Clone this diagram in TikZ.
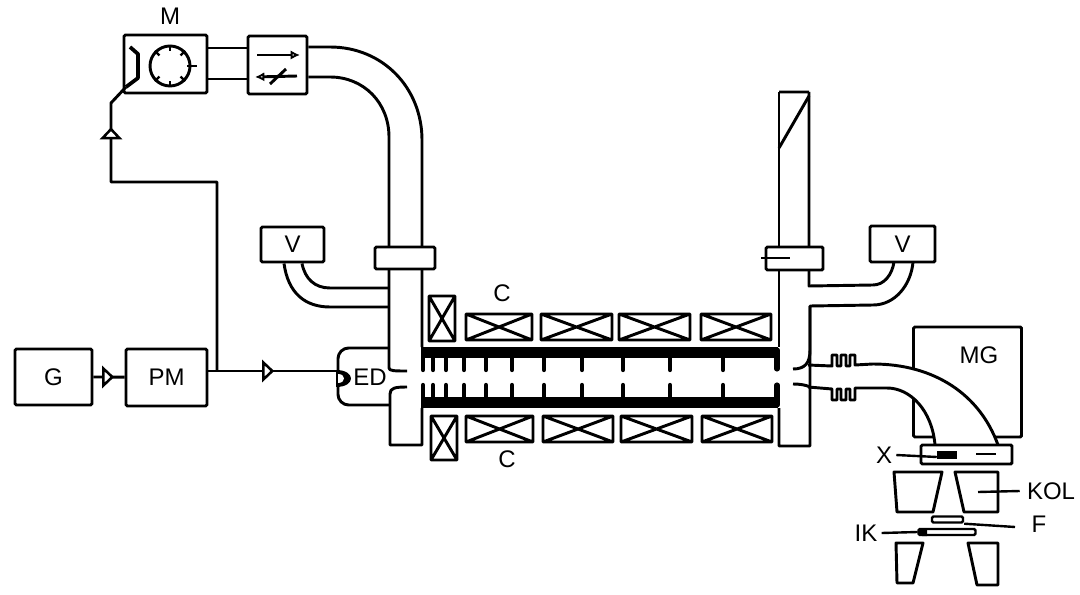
\documentclass[tikz,border=0pt]{standalone}
\usepackage{fontspec}
\setmainfont{Liberation Sans}
\usetikzlibrary{shapes.geometric,arrows.meta}
\tikzset{
  line/.style={line width=2.2pt, line join=round},
  thin line/.style={line width=1.8pt, line join=round},
  box/.style={draw, line width=2.2pt, fill=white, rounded corners=1pt, inner sep=0pt},
  label text/.style={font=\fontsize{18}{20}\selectfont, inner sep=3pt},
  amp/.style={draw, line width=1.9pt, fill=white, isosceles triangle, isosceles triangle stretches, inner sep=0pt, outer sep=0pt, minimum width=17*0.75pt, minimum height=9*0.75pt},
  disk/.style={line width=3.2pt, line cap=round}
}
\begin{document}
\begin{tikzpicture}[x=0.75pt, y=-0.75pt]
  \useasboundingbox (0,0) rectangle (1080,595);
  % boxes
  \foreach \n/\X/\Y/\W/\H/\T in {G/53.5/377/77/56/G, PM/166.5/377.5/81/57/PM, M/165.5/64/83/58/, SW/277.5/65/59/58/, VL/292.5/244.5/63/35/V, VR/902.5/244/65/36/V, MG/967.5/382/108/110/}
  {
    \node[box, label text, minimum width=\W*0.75pt, minimum height=\H*0.75pt] (\n) at (\X,\Y) {\T};
  }
  % waveguide from the switch down to the left flange
  \draw[line] (M.east |- 0,48) -- (SW.west |- 0,48);
  \draw[line] (M.east |- 0,79) -- (SW.west |- 0,79);
  \draw[line] (SW.east |- 0,47) -- (330,47) .. controls (383,47) and (422,88) .. (422,140) -- (422,347);
  \draw[line] (SW.east |- 0,77) -- (330,77) .. controls (364,77) and (389,103) .. (389,137) -- (389,368) .. controls (389,371) and (395,371) .. (407,371);
  \draw[line] (407,387) .. controls (395,387) and (390,388) .. (390,394) -- (390,445) -- (422,445) -- (422,408);
  \node[box, minimum width=60*0.75pt, minimum height=22*0.75pt] (flangeL) at (405,258) {};
  % pipes to the left vacuum box
  \draw[line] (VL.south -| 302,0) .. controls (305,279) and (315,288) .. (330,288) -- (389,288);
  \draw[line] (VL.south -| 284,0) .. controls (288,293) and (305,307) .. (330,307) -- (389,307);
  % electron gun
  \draw[line, rounded corners=8pt] (389,348) -- (338,348) -- (338,405) -- (390,405);
  \node[label text] (ED) at (370,377) {ED};
  \fill (336,370) .. controls (356,370) and (356,387) .. (336,387) -- cycle;
  \fill[white] (338,374) .. controls (346,374) and (346,383) .. (338,383) -- cycle;
  % cavity
  \fill (421,347) rectangle (778,358);
  \fill (421,397) rectangle (778,408);
  \foreach \X in {423,433,446,464,486,512,544,582,623,670,723}
  {
    \draw[disk] (\X,358) -- (\X,370);
    \draw[disk] (\X,397) -- (\X,385);
  }
  \draw[disk, line width=3.8pt] (777,350) -- (777,369);
  \draw[disk, line width=3.8pt] (777,405) -- (777,385);
  % coils
  \foreach \xa/\ya/\xb/\yb in {429/296/455/341, 431/416/457/460, 466/314/532/340, 541/314/612/340, 619/314/690/340, 701/314/771/340, 466/416/533/442, 543/416/613/442, 621/416/692/442, 702/416/772/442}
  {
    \draw[line] (\xa,\ya) rectangle (\xb,\yb) (\xa,\ya) -- (\xb,\yb) (\xa,\yb) -- (\xb,\ya);
  }
  \node[label text] (C1) at (502,293) {C};
  \node[label text] (C2) at (507,459) {C};
  % right tube
  \draw[line] (809,92) -- (809,286) -- (873,285) .. controls (884,285) and (892,275) .. (894,262);
  \draw[line] (779,92) -- (779,347);
  \draw[line] (779,408) -- (779,446) -- (810,446) -- (810,306) -- (873,305) .. controls (895,305) and (911,285) .. (913,262);
  \draw[line] (779,92) -- (809,92) (809,96) -- (779,148);
  \node[box, minimum width=57*0.75pt, minimum height=23*0.75pt] (flangeR) at (794.5,258.5) {};
  \draw[thin line] (761,258) -- (790,258);
  \draw[line] (810,306) -- (810,350) .. controls (810,363) and (805,369) .. (793,369);
  \draw[line] (810,387) .. controls (806,385) and (800,384) .. (793,384);
  % bent tube through the magnet
  \fill[white] (857,365) -- (873,364) .. controls (935,364) and (980,395) .. (998,445) -- (935,445) .. controls (932,410) and (910,388) .. (887,388) -- (857,388) -- cycle;
  \draw[line] (808,365) -- (832,366) -- (832,355) -- (837,355) -- (837,366) -- (841,366) -- (841,355) -- (846,355) -- (846,366) -- (850,366) -- (850,355) -- (855,355) -- (855,365) -- (873,364) .. controls (935,364) and (980,395) .. (998,445);
  \draw[line] (808,387) -- (832,389) -- (832,400) -- (837,400) -- (837,389) -- (841,389) -- (841,400) -- (846,400) -- (846,389) -- (850,389) -- (850,400) -- (855,400) -- (855,388) -- (887,388) .. controls (910,388) and (932,410) .. (935,445);
  \node[label text] (MGlab) at (979,355) {MG};
  % X-ray box and blobs
  \node[box, minimum width=91*0.75pt, minimum height=19*0.75pt] (Xbox) at (966.5,454.5) {};
  \node[fill, minimum width=20*0.75pt, minimum height=8*0.75pt, inner sep=0pt] (anode) at (947,455) {};
  \draw[line] (976,454) -- (996,454);
  \node[label text] (Xlab) at (884,455) {X};
  \draw[thin line] (Xlab.east) -- (anode.west |- 0,457);
  % objective lenses
  \draw[line] (894,472) -- (942,472) -- (933,512) -- (897,512) -- cycle;
  \draw[line] (955,472) -- (998,472) -- (998,512) -- (964,512) -- cycle;
  \coordinate (lensR) at (978,492);
  \node[label text] (KOL) at (1051,491) {KOL};
  \draw[thin line] (KOL.west) ++(-3,0) -- (lensR);
  \draw[line] (896,543) -- (923,543) -- (913,583) -- (897,583) -- cycle;
  \draw[line] (968,543) -- (998,543) -- (998,585) -- (977,585) -- cycle;
  % filter and specimen
  \node[box, line width=1.8pt, minimum width=31*0.75pt, minimum height=6*0.75pt] (filter) at (947.5,519.5) {};
  \node[label text] (F) at (1039,524) {F};
  \coordinate (fend) at (1015,527);
  \draw[thin line] (filter.south east) -- (fend);
  \node[box, line width=1.8pt, minimum width=57*0.75pt, minimum height=6*0.75pt] (camera) at (947,532) {};
  \fill (917,532) -- (922,528) -- (927,528) -- (927,536) -- (922,536) -- cycle;
  \node[label text] (IK) at (866,533) {IK};
  \draw[thin line] (IK.east) -- (camera.west);
  % signal lines
  \node[amp] (amp1) at (107,377) {};
  \draw[line] (G) -- (amp1) -- (PM);
  \coordinate (jc) at (217,371);
  \coordinate (gunin) at (338,371);
  \node[amp] (amp2) at (267,371) {};
  \draw[line] (PM.east |- jc) -- (jc) -- (amp2) -- (gunin);
  \coordinate (jt) at (111,182);
  \coordinate (md) at (111,103);
  \coordinate (mc) at (126,87);
  \node[amp, shape border rotate=90] (amp3) at (111,134.5) {};
  \draw[line] (jc) -- (jc |- jt) -- (jt) -- (amp3) -- (md) -- (mc);
  \draw[line, line width=2.8pt] (130,47) -- (138,54) -- (138,78) -- (mc);
  % magnetron and arrows
  \node[circle, draw, line width=2.2pt, minimum size=40*0.75pt, inner sep=0pt] (tube) at (170,66) {};
  \foreach \a in {45,-90,-45,-135,90,135}
  {
    \draw[line, line width=1.8pt] (tube.\a) -- ([shift={(\a:-6.5*0.75pt)}]tube.\a);
  }
  \draw[line, line width=1.8pt] (187,66) -- (197,66);
  \draw[line, -{Latex[open, fill=white, length=7pt, width=7pt]}] (257,55) -- (300,55);
  \draw[line, -{Latex[open, fill=white, length=7pt, width=7pt]}] (297,76) -- (255,77);
  \draw[line] (270,84) -- (286,69);
  \node[label text] (Mlab) at (170,16) {M};
\end{tikzpicture}
\end{document}
